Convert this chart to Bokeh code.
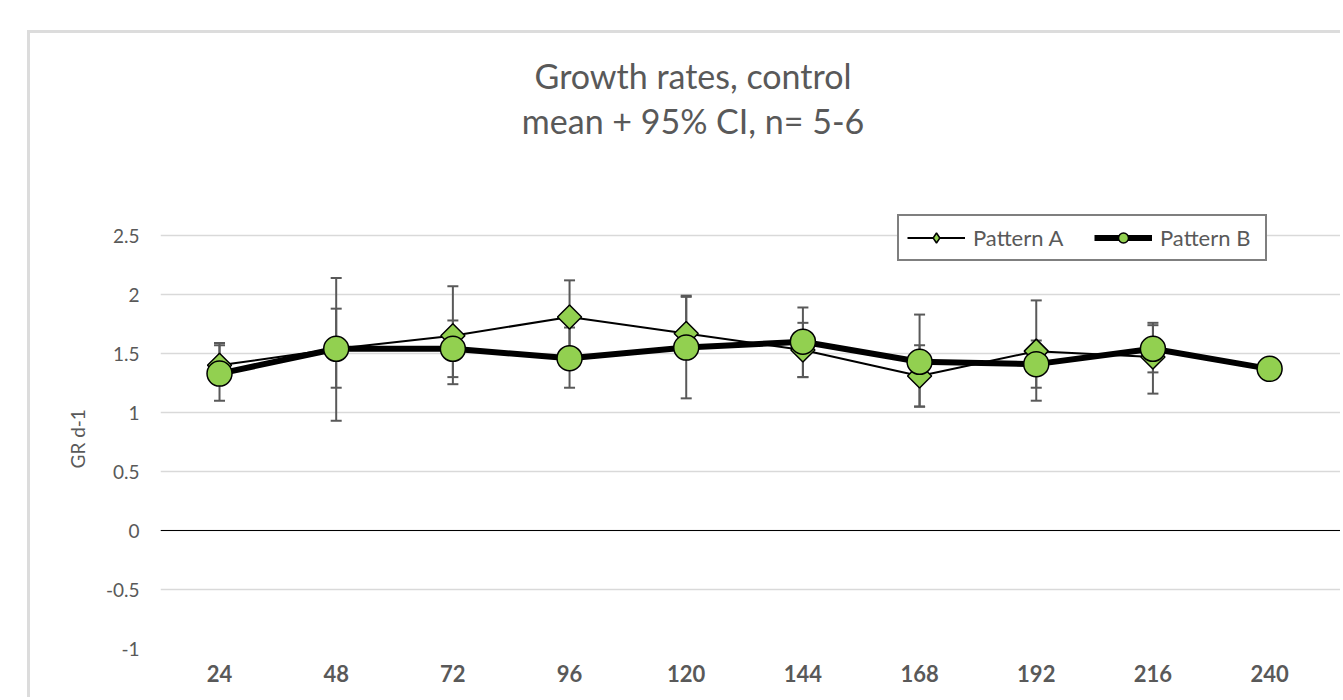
from bokeh.plotting import figure
from bokeh.models import (ColumnDataSource, Whisker, TeeHead, Span, Label, Legend, LegendItem,
                          FixedTicker, CustomJSTickFormatter, Range1d, Title)
from bokeh.embed import file_html
from bokeh.resources import INLINE
import numpy as np

# ---------------- data ----------------
hours = [24, 48, 72, 96, 120, 144, 168, 192, 216, 240]
hours_a = [24, 48, 72, 96, 120, 144, 168, 192, 216]
pattern_a = [1.40, 1.54, 1.65, 1.81, 1.67, 1.53, 1.31, 1.52, 1.47]
pattern_a_lower = [1.26, 0.93, 1.24, 1.50, 1.50, 1.30, 1.05, 1.10, 1.16]
pattern_a_upper = [1.59, 2.14, 2.07, 2.12, 1.99, 1.76, 1.57, 1.95, 1.76]
hours_b_err = [24, 48, 72, 96, 120, 144, 168, 192, 216]
pattern_b = [1.33, 1.54, 1.54, 1.46, 1.55, 1.60, 1.43, 1.41, 1.54, 1.37]
pattern_b_lower = [1.10, 1.21, 1.30, 1.21, 1.12, 1.30, 1.05, 1.21, 1.34]
pattern_b_upper = [1.57, 1.88, 1.78, 1.72, 1.98, 1.89, 1.83, 1.61, 1.74]
y_ticks = [-1, -0.5, 0, 0.5, 1, 1.5, 2, 2.5]
title_lines = ["Growth rates, control", "mean + 95% CI, n= 5-6"]
series_names = ["Pattern A", "Pattern B"]
y_label = "GR d-1"

FONT = "Lato"
GRAY = "#595959"
GREEN = "#92d050"

# the frame reaches up to the top of the chart so that title and legend are not clipped
p = figure(width=1313, height=667, output_backend="svg", toolbar_location=None,
           x_range=Range1d(11.86, 255.2), y_range=Range1d(-1, 4.212),
           min_border_left=130, min_border_top=0, min_border_bottom=52, min_border_right=0)
p.margin = (30, 0, 0, 27)
p.styles = {"border-top": "3px solid #dcdcdc", "border-left": "3px solid #dcdcdc"}
p.outline_line_color = None
p.background_fill_color = "white"
p.border_fill_color = "white"

# grid
p.xgrid.visible = False
p.ygrid.ticker = FixedTicker(ticks=y_ticks)
p.ygrid.grid_line_color = "#d9d9d9"
p.ygrid.grid_line_width = 1.5

# axes
p.xaxis.ticker = FixedTicker(ticks=hours)
p.xaxis.axis_line_color = None
p.xaxis.major_tick_line_color = None
p.xaxis.minor_tick_line_color = None
p.xaxis.major_tick_out = 0
p.xaxis.major_label_standoff = 16
p.xaxis.major_label_text_font = FONT
p.xaxis.major_label_text_font_style = "bold"
p.xaxis.major_label_text_font_size = "22px"
p.xaxis.major_label_text_color = GRAY

p.yaxis.ticker = FixedTicker(ticks=y_ticks)
p.yaxis.formatter = CustomJSTickFormatter(code="return tick.toString()")
p.yaxis.axis_line_color = None
p.yaxis.major_tick_line_color = None
p.yaxis.minor_tick_line_color = None
p.yaxis.major_tick_out = 0
p.yaxis.major_label_standoff = 21
p.yaxis.major_label_text_font = FONT
p.yaxis.major_label_text_font_size = "19px"
p.yaxis.major_label_text_color = GRAY

# y axis title, placed beside the axis at the height of the plotted range
p.add_layout(Title(text=y_label, align="left", offset=180, vertical_align="bottom", standoff=28,
                   text_font=FONT, text_font_style="normal", text_font_size="19px",
                   text_color=GRAY), "left")

# zero line
p.add_layout(Span(location=0, dimension="width", line_color="black", line_width=1.2))

# error bars
src_ae = ColumnDataSource(dict(x=hours_a, lower=pattern_a_lower, upper=pattern_a_upper))
src_be = ColumnDataSource(dict(x=hours_b_err, lower=pattern_b_lower, upper=pattern_b_upper))
for src in (src_ae, src_be):
    w = Whisker(source=src, base="x", lower="lower", upper="upper",
                line_color=GRAY, line_width=2, level="underlay",
                upper_head=TeeHead(size=11, line_color=GRAY, line_width=2),
                lower_head=TeeHead(size=11, line_color=GRAY, line_width=2))
    p.add_layout(w)

# series A (a diamond under a rotated square gives the legend a diamond swatch)
src_a = ColumnDataSource(dict(x=hours_a, y=pattern_a))
la = p.line("x", "y", source=src_a, line_color="black", line_width=2)
da = p.scatter("x", "y", source=src_a, marker="diamond", size=22,
               fill_color=GREEN, line_color="black", line_width=1.5)
ma = p.scatter("x", "y", source=src_a, marker="square", angle=np.pi / 4, size=17,
               fill_color=GREEN, line_color="black", line_width=1.5)

# series B
src_b = ColumnDataSource(dict(x=hours, y=pattern_b))
lb = p.line("x", "y", source=src_b, line_color="black", line_width=6)
mb = p.scatter("x", "y", source=src_b, marker="circle", size=25,
               fill_color=GREEN, line_color="black", line_width=1.5)

legend = Legend(items=[LegendItem(label=series_names[0], renderers=[la, da]),
                       LegendItem(label=series_names[1], renderers=[lb, mb])],
                orientation="horizontal", location=(737, 387),
                border_line_color="black", border_line_width=2,
                background_fill_color="white", background_fill_alpha=1,
                padding=8, margin=0, spacing=24, glyph_width=58, glyph_height=25,
                label_standoff=8, label_width=97,
                label_text_font=FONT, label_text_font_size="22px", label_text_color=GRAY)
p.add_layout(legend, "center")

# titles
p.add_layout(Label(x=121.4, y=3.856, text=title_lines[0], text_align="center", text_baseline="middle",
                   text_font=FONT, text_font_size="34px", text_color=GRAY))
p.add_layout(Label(x=121.4, y=3.475, text=title_lines[1], text_align="center", text_baseline="middle",
                   text_font=FONT, text_font_size="34px", text_color=GRAY))

open("out.html", "w").write(file_html(p, INLINE))
